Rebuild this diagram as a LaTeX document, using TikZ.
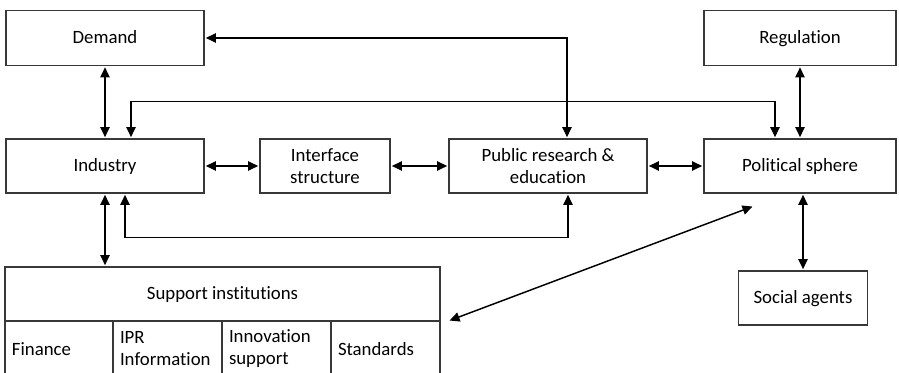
\documentclass[tikz,border=0pt]{standalone}
\usepackage{fontspec}
\setmainfont{Carlito}[Ligatures=NoCommon]
\usetikzlibrary{arrows.meta,calc}
\begin{document}
\begin{tikzpicture}[x=0.75pt,y=-0.75pt,
  box/.style={draw=black!78,line width=0.8pt,rectangle,inner sep=0pt,
    align=center,font=\fontsize{14.1}{16.5}\selectfont},
  oneline/.style={text height=0.644em+2pt,text depth=0pt},
  cell/.style={box,align=left,inner xsep=5.25pt,minimum height=42pt},
  dbl/.style={line width=1.1pt,draw=black,
    {Triangle[length=7.5pt,width=7pt]}-{Triangle[length=7.5pt,width=7pt]},
    shorten <=1pt,shorten >=1pt}]
\useasboundingbox (0,0) rectangle (899,373);
\clip (0,0) rectangle (899,373);

% upper row
\node[box,oneline,minimum width=148.5pt,minimum height=41.25pt] (demand) at (105,38) {Demand};
\node[box,oneline,minimum width=144pt,minimum height=41.25pt] (regulation) at (800,38) {Regulation};

% middle row
\node[box,oneline,minimum width=148.5pt,minimum height=40.5pt] (industry) at (105,166) {Industry};
\node[box,minimum width=97.5pt,minimum height=40.5pt] (interface) at (325,166) {Interface\\structure};
\node[box,minimum width=148.5pt,minimum height=40.5pt] (public) at (548,166) {Public research \&\\education};
\node[box,oneline,minimum width=144pt,minimum height=40.5pt] (political) at (800,166) {Political sphere};

% lower row
\node[box,oneline,minimum width=96.75pt,minimum height=40.5pt] (social) at (803,298) {Social agents};
\node[box,oneline,minimum width=326.25pt,minimum height=40.5pt] (support) at (222.5,294) {Support institutions};
\node[cell,text width=70.5pt] (finance) at (59,349) {Finance};
\node[cell,text width=71.25pt] (ipr) at (167.5,349) {IPR\\Information};
\node[cell,text width=71.25pt] (innov) at (276.5,349) {Innovation\\support};
\node[cell,text width=71.25pt] (standards) at (385.5,349) {Standards};

% straight links
\draw[dbl] (demand) -- (industry);
\draw[dbl] (industry.south) -- (industry.south |- support.north);
\draw[dbl] (industry) -- (interface);
\draw[dbl] (interface) -- (public);
\draw[dbl] (public) -- (political);
\draw[dbl] (regulation) -- (political);
\draw[dbl] (political.south -| social.north) -- (social.north);

% routed links
\draw[dbl] ($(industry.north)+(26,0)$) -- ++(0,-37) -| ($(political.north)+(-25,0)$);
\draw[dbl] (demand.east) -| ($(public.north)+(19,0)$);
\draw[dbl] ($(industry.south)+(20,0)$) -- ++(0,44) -| ($(public.south)+(20,0)$);

% diagonal link
\coordinate (dA) at ($(support.south east)+(9,-1)$);
\coordinate (dB) at ($(political.south west)+(49,13)$);
\draw[dbl,shorten <=0pt,shorten >=0pt] (dA) -- (dB);
\end{tikzpicture}
\end{document}
